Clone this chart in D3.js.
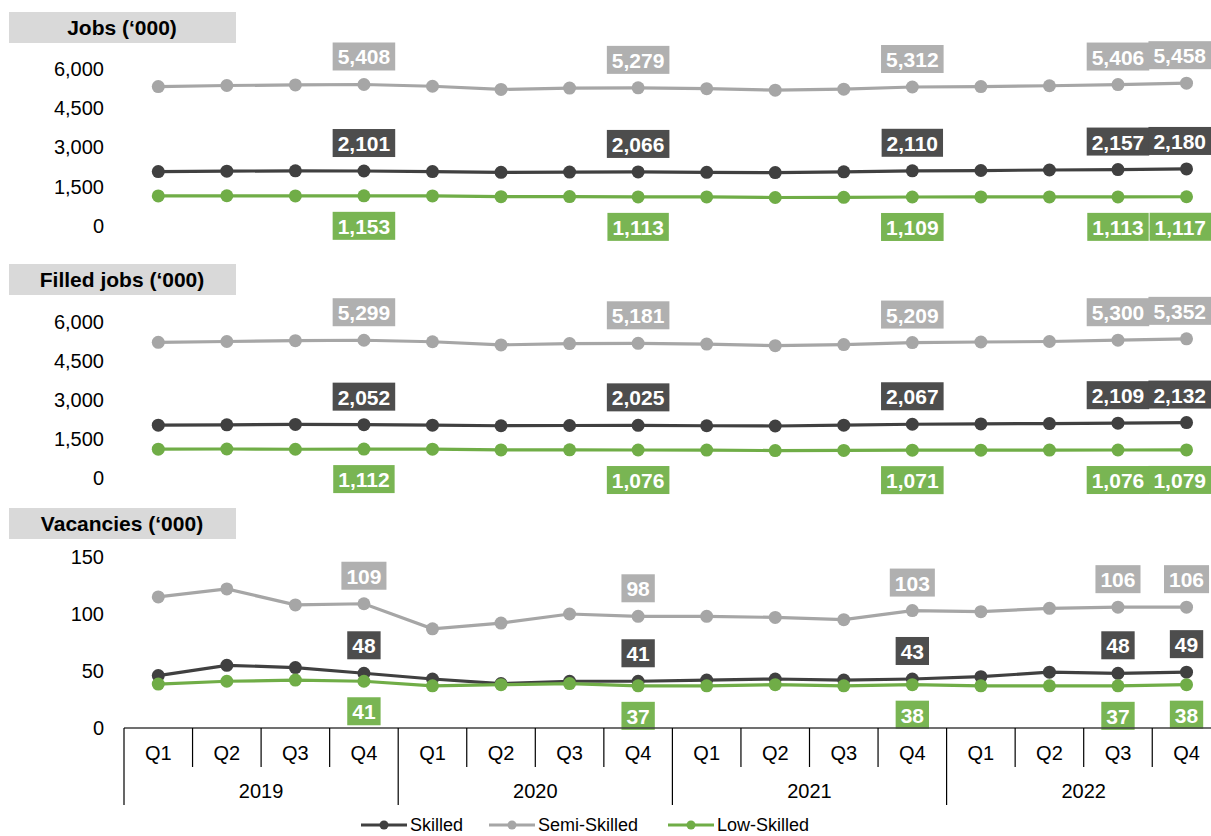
<!DOCTYPE html>
<html><head><meta charset="utf-8">
<script src="https://cdn.jsdelivr.net/npm/d3@7"></script>
<style>body{margin:0;background:#fff;}svg{display:block;font-family:"Liberation Sans",Arial,sans-serif;}</style>
</head><body><svg id="c" width="1211" height="836"></svg>
<script>
const quarters = ["Q1","Q2","Q3","Q4"];
const years = ["2019","2020","2021","2022"];
const seriesNames = ["Skilled","Semi-Skilled","Low-Skilled"];
const panelTitles = ["Jobs (‘000)","Filled jobs (‘000)","Vacancies (‘000)"];

const jobsSkilled = [2080,2095,2110,2101, 2080,2050,2060,2066, 2050,2040,2070,2110, 2120,2140,2157,2180];
const jobsSemi    = [5330,5370,5390,5408, 5340,5220,5270,5279, 5250,5190,5230,5312, 5330,5360,5406,5458];
const jobsLow     = [1150,1155,1150,1153, 1150,1120,1125,1113, 1110,1090,1095,1109, 1110,1112,1113,1117];

const filledSkilled = [2030,2045,2060,2052, 2030,2010,2020,2025, 2010,2000,2030,2067, 2080,2095,2109,2132];
const filledSemi    = [5220,5250,5280,5299, 5240,5120,5170,5181, 5150,5090,5130,5209, 5230,5250,5300,5352];
const filledLow     = [1110,1115,1105,1112, 1110,1080,1085,1076, 1075,1055,1060,1071, 1072,1075,1076,1079];

const vacSkilled = [46,55,53,48, 43,39,41,41, 42,43,42,43, 45,49,48,49];
const vacSemi    = [115,122,108,109, 87,92,100,98, 98,97,95,103, 102,105,106,106];
const vacLow     = [38.5,41,42,41, 37,38,39,37, 37,38,37,38, 37,37,37,38];

const jobsTicks = [0,1500,3000,4500,6000];
const vacTicks = [0,50,100,150];
const labelIdx = [3,7,11,14,15];

const colors = {line:["#404040","#a6a6a6","#70ad47"], box:["#4d4d4d","#b0b0b0","#79b553"]};

const W = 1211;
const svg = d3.select("#c");
const cats = [];
years.forEach(y=>quarters.forEach(q=>cats.push(y+"-"+q)));
const x = d3.scaleBand().domain(cats).range([124, 124+16*68.55]);
const cx = c => x(c)+x.bandwidth()/2;

const panels = [
  {title:panelTitles[0], data:[jobsSkilled,jobsSemi,jobsLow], ticks:jobsTicks, max:6000, top:69, bot:226, box:[12,43], fmt:d3.format(",")},
  {title:panelTitles[1], data:[filledSkilled,filledSemi,filledLow], ticks:jobsTicks, max:6000, top:322, bot:478, box:[264,295], fmt:d3.format(",")},
  {title:panelTitles[2], data:[vacSkilled,vacSemi,vacLow], ticks:vacTicks, max:150, top:557, bot:728, box:[508,539], fmt:d3.format(",.0f")}
];

panels.forEach(p=>{
  const y = d3.scaleLinear().domain([0,p.max]).range([p.bot,p.top]);
  svg.append("rect").attr("x",9).attr("y",p.box[0]).attr("width",227).attr("height",p.box[1]-p.box[0]).attr("fill","#d9d9d9");
  svg.append("text").attr("x",122).attr("y",(p.box[0]+p.box[1])/2+7.5).attr("text-anchor","middle")
    .attr("font-size",21).attr("font-weight","bold").attr("fill","#000").text(p.title);
  const ax = svg.append("g").attr("transform","translate(104,0)")
    .call(d3.axisLeft(y).tickValues(p.ticks).tickSize(0).tickPadding(0).tickFormat(d3.format(",")));
  ax.select(".domain").remove();
  ax.selectAll("text").attr("font-size",20).attr("fill","#000").attr("font-family","Liberation Sans, Arial, sans-serif");
  const line = d3.line().x((d,i)=>cx(cats[i])).y(d=>y(d));
  [1,0,2].forEach(s=>{
    const vals = p.data[s];
    svg.append("path").datum(vals).attr("d",line).attr("fill","none").attr("stroke",colors.line[s]).attr("stroke-width",3.2);
    svg.append("g").selectAll("circle").data(vals).join("circle")
      .attr("cx",(d,i)=>cx(cats[i])).attr("cy",d=>y(d)).attr("r",6.5).attr("fill",colors.line[s]);
  });
  [1,0,2].forEach(s=>{
    const vals = p.data[s];
    labelIdx.forEach(i=>{
      const v = vals[i];
      const t = p.fmt(Math.round(v));
      let px = cx(cats[i]);
      const cy = s===2 ? y(v)+30 : y(v)-28;
      const g = svg.append("g");
      const txt = g.append("text").attr("y",cy+8).attr("text-anchor","middle")
        .attr("font-size",21).attr("font-weight","bold").attr("fill","#fff").text(t);
      const w = txt.node().getComputedTextLength()+10;
      if (px + w/2 > W) px = W - w/2;
      txt.attr("x",px);
      g.insert("rect","text").attr("x",px-w/2).attr("y",cy-14).attr("width",w).attr("height",28).attr("fill",colors.box[s]);
    });
  });
});

// category axis
const yAxis = 728;
svg.append("line").attr("x1",124).attr("x2",W).attr("y1",yAxis).attr("y2",yAxis).attr("stroke","#404040").attr("stroke-width",1.5);
cats.forEach((c,i)=>{
  const xl = x(c);
  const isYear = i%4===0;
  svg.append("line").attr("x1",xl).attr("x2",xl).attr("y1",yAxis).attr("y2",isYear?805:767).attr("stroke","#000").attr("stroke-width",1.2);
  svg.append("text").attr("x",cx(c)).attr("y",760).attr("text-anchor","middle").attr("font-size",20).attr("fill","#000").text(quarters[i%4]);
});
years.forEach((yv,j)=>{
  const x0 = x(cats[j*4]), x1 = x(cats[j*4+3])+x.bandwidth();
  svg.append("text").attr("x",(x0+x1)/2).attr("y",798).attr("text-anchor","middle").attr("font-size",20).attr("fill","#000").text(yv);
});

// legend
const legX = [361,489,668];
seriesNames.forEach((n,s)=>{
  const g = svg.append("g").attr("transform",`translate(${legX[s]},825)`);
  g.append("line").attr("x1",0).attr("x2",46).attr("y1",0).attr("y2",0).attr("stroke",colors.line[s]).attr("stroke-width",3);
  g.append("circle").attr("cx",23).attr("cy",0).attr("r",4.5).attr("fill",colors.line[s]);
  g.append("text").attr("x",49).attr("y",6).attr("font-size",18).attr("fill","#000").text(n);
});
</script></body></html>
